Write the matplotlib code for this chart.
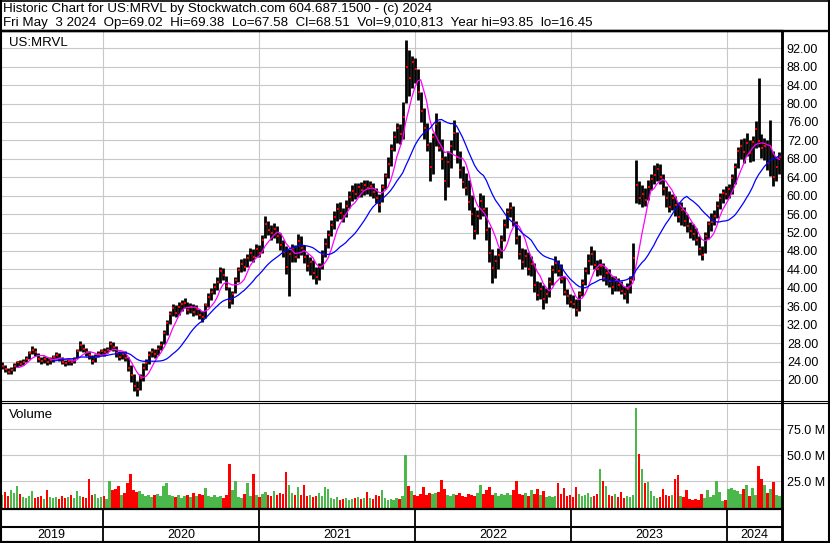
import numpy as np
import pandas as pd
import matplotlib
matplotlib.use('Agg')
import matplotlib.pyplot as plt
import matplotlib.dates as mdates
from matplotlib.lines import Line2D

plt.rcParams['font.family'] = ['Liberation Sans', 'DejaVu Sans']
plt.rcParams['font.size'] = 9

# -----------------------------------------------------------------------------------
# Weekly bars (Fridays, 10 May 2019 .. 3 May 2024)
# -----------------------------------------------------------------------------------
weeks = pd.date_range('2019-05-10', '2024-05-03', freq='W-FRI')

close = [
    # 2019
    23.0, 22.4, 21.8, 22.2, 23.0, 23.8, 23.5, 24.0, 24.6, 25.8, 26.6, 26.0, 24.6, 24.2, 24.6, 24.0, 24.3,
    24.9, 25.4, 24.8, 24.0, 23.6, 24.1, 23.8, 24.5, 26.2, 27.6, 26.8, 26.0, 25.4, 24.2, 25.0, 25.7, 26.3,
    # 2020
    26.0, 26.6, 27.8, 27.2, 25.8, 25.0, 25.6, 24.8, 22.6, 21.0, 18.8, 18.0, 20.4, 22.6, 23.6, 25.5, 26.0,
    25.6, 26.8, 27.5, 30.2, 32.4, 34.4, 35.6, 34.6, 35.8, 36.4, 36.8, 35.2, 35.8, 34.8, 35.4, 34.0, 33.6,
    36.2, 38.0, 39.2, 40.2, 41.2, 43.6, 42.8, 40.4, 37.2, 38.6, 41.6, 43.8, 45.2, 44.6, 46.4, 47.6, 46.8, 48.4,
    # 2021
    47.6, 50.4, 53.8, 52.6, 51.8, 52.8, 51.2, 49.4, 47.8, 44.6, 47.4, 48.6, 46.8, 50.2, 48.6, 46.8, 44.8, 45.6,
    43.2, 42.4, 44.6, 47.4, 49.6, 51.4, 53.6, 55.4, 57.2, 56.2, 55.6, 57.8, 59.8, 61.0, 60.4, 61.8, 61.2, 62.4,
    61.6, 62.2, 60.8, 59.4, 58.0, 61.8, 64.2, 66.8, 70.2, 72.8, 74.6, 73.4, 77.0, 88.0, 85.6, 89.0, 87.4,
    # 2022
    82.6, 78.4, 74.6, 71.0, 66.2, 72.8, 75.6, 70.4, 68.0, 63.2, 67.4, 70.8, 73.6, 68.4, 65.6, 63.0, 61.6,
    58.6, 56.0, 52.4, 55.6, 58.8, 57.2, 52.6, 47.6, 44.4, 45.8, 47.2, 50.4, 53.6, 56.4, 57.4, 54.2, 50.8,
    47.4, 45.6, 47.0, 44.2, 45.2, 40.6, 38.4, 39.8, 37.6, 38.6, 41.2, 43.8, 45.4, 43.6, 42.0, 39.0, 38.2, 37.0,
    # 2023
    36.6, 35.2, 38.6, 41.0, 43.6, 45.8, 47.4, 45.0, 44.0, 44.8, 42.2, 43.2, 41.4, 40.2, 41.4, 40.6, 39.4,
    38.6, 39.8, 41.8, 46.4, 62.4, 59.6, 60.4, 59.0, 61.8, 63.6, 64.6, 65.8, 64.0, 61.4, 59.6, 57.6, 59.4,
    58.0, 55.4, 56.8, 54.6, 53.4, 52.4, 51.6, 50.4, 48.4, 47.2, 51.2, 53.8, 54.4, 55.6, 57.8, 59.6, 60.6, 60.4,
    # 2024
    61.4, 63.8, 66.2, 69.6, 70.8, 69.4, 71.4, 69.2, 71.6, 74.4, 71.8, 70.4, 70.8, 67.2, 70.6, 64.0, 66.2, 68.5,
]

high = [
    # 2019
    24.0, 23.3, 22.6, 22.8, 23.6, 24.2, 24.3, 24.6, 25.2, 26.4, 27.4, 27.0, 25.8, 24.9, 25.2, 24.9, 25.0,
    25.5, 26.0, 25.8, 25.0, 24.4, 24.7, 24.6, 25.0, 26.8, 28.4, 27.9, 27.0, 26.3, 25.4, 25.6, 26.4, 26.8,
    # 2020
    26.9, 27.2, 28.4, 28.2, 27.3, 26.2, 26.4, 26.2, 25.0, 23.2, 21.4, 19.8, 21.2, 23.6, 24.6, 26.2, 27.0,
    26.8, 27.6, 28.4, 30.8, 33.0, 35.0, 36.6, 36.2, 37.0, 37.4, 37.8, 37.0, 36.8, 36.4, 36.2, 35.4, 35.0,
    36.8, 38.8, 40.0, 41.0, 42.4, 44.6, 44.4, 42.6, 40.2, 39.4, 42.4, 44.6, 46.2, 46.4, 47.4, 48.6, 48.4, 49.6,
    # 2021
    49.4, 51.4, 55.5, 54.6, 53.6, 54.0, 53.4, 52.0, 50.4, 49.0, 48.4, 49.6, 49.2, 51.6, 51.2, 49.4, 47.4, 46.6,
    46.0, 44.6, 45.4, 48.2, 50.8, 52.6, 54.8, 56.6, 58.4, 58.6, 57.4, 59.0, 61.0, 62.4, 62.8, 62.8, 63.0, 63.5,
    63.4, 63.2, 62.8, 61.6, 60.4, 62.6, 65.0, 68.4, 71.2, 74.0, 75.8, 75.6, 80.4, 93.8, 91.6, 90.4, 89.8,
    # 2022
    87.6, 82.6, 79.0, 75.8, 71.6, 73.6, 78.0, 76.2, 72.4, 68.6, 69.6, 72.2, 76.4, 73.8, 69.8, 66.4, 65.0,
    63.4, 60.2, 57.6, 57.0, 60.6, 60.2, 57.6, 53.2, 48.4, 47.2, 48.6, 51.4, 55.0, 57.4, 58.6, 57.8, 54.6,
    51.4, 48.6, 48.4, 47.8, 47.0, 45.4, 41.4, 41.2, 40.6, 40.0, 42.4, 45.0, 47.0, 46.0, 45.2, 42.6, 39.8, 38.6,
    # 2023
    38.4, 37.6, 39.4, 42.0, 44.6, 47.4, 49.0, 48.2, 46.0, 46.2, 45.4, 44.4, 44.0, 42.6, 42.6, 42.2, 41.4,
    40.4, 41.0, 42.6, 49.8, 67.8, 63.2, 62.4, 61.6, 63.4, 64.8, 66.6, 67.0, 66.8, 64.8, 62.0, 61.0, 60.4,
    60.0, 58.6, 58.6, 57.6, 56.0, 54.2, 53.8, 53.0, 51.2, 49.0, 52.2, 54.6, 56.2, 57.0, 58.8, 60.6, 61.4, 62.0,
    # 2024
    62.6, 64.8, 67.0, 70.6, 72.4, 72.6, 73.6, 72.2, 73.0, 76.2, 85.6, 73.4, 72.6, 72.0, 76.4, 69.6, 68.4, 69.4,
]

low = [
    # 2019
    22.3, 21.8, 21.2, 21.3, 21.9, 22.8, 23.0, 23.2, 23.8, 24.5, 25.6, 25.2, 23.9, 23.4, 23.6, 23.3, 23.5,
    24.0, 24.6, 24.2, 23.4, 23.0, 23.3, 23.2, 23.6, 24.8, 26.4, 26.1, 25.3, 24.6, 23.5, 24.0, 24.9, 25.5,
    # 2020
    25.3, 25.8, 26.5, 26.4, 25.0, 24.3, 24.5, 24.1, 22.0, 19.5, 17.6, 16.5, 17.8, 19.8, 22.2, 23.5, 25.0,
    24.8, 25.4, 26.5, 27.8, 29.8, 32.2, 33.8, 33.6, 34.2, 35.0, 35.6, 34.4, 34.6, 33.8, 34.0, 33.2, 32.6,
    33.4, 35.8, 37.4, 38.6, 39.6, 41.0, 41.6, 39.6, 35.6, 36.4, 38.8, 41.2, 43.4, 43.6, 44.6, 45.8, 45.6, 46.6,
    # 2021
    46.8, 47.6, 50.8, 51.4, 50.4, 50.8, 49.8, 48.2, 46.8, 43.0, 38.2, 45.6, 45.6, 46.4, 47.2, 45.4, 43.6, 42.8,
    42.0, 40.8, 41.6, 44.2, 46.6, 48.6, 51.2, 52.8, 54.6, 55.0, 54.4, 55.4, 57.4, 58.8, 59.2, 59.8, 59.8, 60.2,
    60.4, 60.0, 59.6, 58.4, 56.5, 58.6, 61.4, 63.8, 66.4, 69.8, 71.4, 71.2, 72.4, 80.2, 81.6, 83.4, 84.4,
    # 2022
    80.8, 76.0, 72.4, 69.8, 63.2, 64.8, 70.8, 69.6, 65.8, 59.0, 61.8, 66.0, 70.0, 67.2, 63.8, 61.6, 60.2,
    56.8, 53.6, 50.5, 51.6, 55.0, 55.6, 50.4, 45.6, 41.0, 42.2, 44.0, 46.4, 50.2, 53.0, 55.4, 53.4, 49.6,
    46.2, 44.2, 44.6, 42.8, 42.6, 39.2, 37.4, 37.6, 35.4, 36.8, 38.0, 40.6, 43.2, 42.6, 41.0, 38.4, 36.6, 35.8,
    # 2023
    35.6, 33.8, 35.0, 38.2, 40.6, 43.0, 45.0, 44.0, 42.6, 42.8, 41.4, 40.6, 40.2, 38.6, 39.4, 39.4, 38.6,
    37.6, 36.8, 38.8, 41.6, 58.4, 58.2, 57.6, 57.8, 59.0, 61.2, 62.6, 63.2, 62.6, 60.2, 57.6, 56.4, 56.8,
    55.6, 54.2, 53.6, 53.4, 52.2, 50.8, 50.4, 49.2, 47.2, 46.0, 47.6, 50.6, 52.4, 53.6, 55.2, 57.2, 58.4, 59.2,
    # 2024
    59.4, 60.4, 62.6, 66.0, 68.0, 67.2, 68.6, 67.4, 67.6, 70.4, 70.6, 68.2, 67.8, 65.6, 64.2, 62.0, 63.2, 64.8,
]

# millions of shares
volume = [
    12, 15, 11, 17, 14, 21, 13, 10, 9, 11, 16, 9, 10, 11, 8, 17, 10, 9, 10, 8,
    11, 9, 10, 12, 9, 16, 11, 10, 9, 27, 12, 13, 9, 10, 11, 8, 25, 17, 18, 21,
    12, 14, 23, 32, 17, 15, 16, 13, 11, 12, 10, 12, 13, 11, 21, 23, 12, 11, 10, 12,
    9, 11, 12, 10, 14, 11, 13, 12, 19, 11, 10, 12, 10, 11, 9, 12, 42, 17, 25, 10,
    9, 13, 23, 11, 32, 12, 10, 13, 15, 12, 11, 16, 12, 14, 13, 34, 22, 14, 12, 20,
    12, 22, 11, 12, 10, 11, 14, 11, 20, 18, 9, 8, 10, 7, 8, 9, 7, 8, 9, 10,
    8, 9, 15, 9, 8, 12, 11, 17, 9, 7, 8, 7, 9, 8, 11, 50, 21, 16, 12, 11,
    13, 20, 12, 14, 13, 14, 15, 26, 18, 12, 11, 13, 12, 14, 11, 10, 13, 12, 11, 14,
    22, 13, 17, 20, 12, 14, 11, 13, 12, 14, 12, 17, 25, 13, 12, 14, 11, 17, 13, 18,
    12, 16, 10, 11, 10, 11, 23, 13, 19, 11, 12, 10, 20, 13, 11, 12, 14, 10, 11, 13,
    37, 25, 21, 12, 11, 13, 10, 15, 9, 11, 10, 12, 95, 51, 37, 23, 24, 16, 11, 9,
    10, 18, 12, 11, 12, 27, 31, 11, 10, 17, 8, 7, 8, 7, 13, 9, 17, 10, 12, 25,
    15, 6, 7, 18, 19, 17, 16, 13, 18, 22, 11, 19, 12, 40, 27, 22, 14, 18, 24, 12,
    11,
]

years = ['2019', '2020', '2021', '2022', '2023', '2024']
price_ticks = [20, 24, 28, 32, 36, 40, 44, 48, 52, 56, 60, 64, 68, 72, 76, 80, 84, 88, 92]
volume_ticks = [25, 50, 75]

title = 'Historic Chart for US:MRVL by Stockwatch.com 604.687.1500 - (c) 2024'
quote = ('Fri May  3 2024  Op=69.02  Hi=69.38  Lo=67.58  Cl=68.51  '
         'Vol=9,010,813  Year hi=93.85  lo=16.45')

W, H = 830, 543
RED = '#ff0000'
GREEN = '#4cb84c'
GRID = '#c8c8c8'


def box(x0, y0, x1, y1):
    # pixel box (origin top left) -> figure rect
    return [x0 / W, 1 - y1 / H, (x1 - x0) / W, (y1 - y0) / H]


def fig_line(fig, xs, ys, lw):
    fig.add_artist(Line2D([v / W for v in xs], [1 - v / H for v in ys],
                          transform=fig.transFigure, color='black', lw=lw,
                          solid_capstyle='butt'))


x = mdates.date2num(weeks)
x_start = mdates.date2num(pd.Timestamp('2019-05-05'))
x_end = mdates.date2num(pd.Timestamp('2024-05-09'))
year_starts = [mdates.date2num(pd.Timestamp(y + '-01-01')) for y in years[1:]]

closes = pd.Series(close)
ma_fast = closes.rolling(6).mean()
ma_slow = closes.rolling(18).mean()
bar_colors = [RED if d < 0 else GREEN for d in np.diff(close, prepend=close[0])]

fig = plt.figure(figsize=(W / 100, H / 100), dpi=100)

# ---- price panel
ax_p = fig.add_axes(box(0, 30.5, 782, 400.5))
ax_p.vlines(x, low, high, color='black', lw=2.0, zorder=2)
ax_p.plot(x + 2, close, ls='none', marker='s', ms=1.5, mew=0, color=RED, zorder=3)
ax_p.plot(x, ma_fast, color='#ff00ff', lw=0.9, zorder=4)
ax_p.plot(x, ma_slow, color='#0000ff', lw=0.9, zorder=4)
ax_p.set_xlim(x_start, x_end)
ax_p.set_ylim(15.55, 95.86)
ax_p.set_yticks(price_ticks)
ax_p.set_yticklabels(['%.2f' % t for t in price_ticks])
ax_p.yaxis.tick_right()
ax_p.tick_params(axis='y', length=0, pad=3.5, labelsize=9)
ax_p.set_xticks(year_starts)
ax_p.tick_params(axis='x', length=0, labelbottom=False)
ax_p.grid(True, color=GRID, lw=0.8)
ax_p.set_axisbelow(True)

# ---- volume panel
ax_v = fig.add_axes(box(0, 403, 782, 507.5))
ax_v.bar(x, volume, width=6, color=bar_colors, lw=0, zorder=2)
ax_v.set_xlim(x_start, x_end)
ax_v.set_ylim(0, 100)
ax_v.set_yticks(volume_ticks)
ax_v.set_yticklabels(['%.1f M' % t for t in volume_ticks])
ax_v.yaxis.tick_right()
ax_v.tick_params(axis='y', length=0, pad=3.5, labelsize=9)
ax_v.set_xticks(year_starts)
ax_v.tick_params(axis='x', length=0, labelbottom=False)
ax_v.grid(True, color=GRID, lw=0.8)
ax_v.set_axisbelow(True)

# ---- year strip
ax_y = fig.add_axes(box(0, 509, 782, 541.7))
ax_y.set_xlim(x_start, x_end)
ax_y.set_ylim(0, 1)
ax_y.set_xticks([])
ax_y.set_yticks([])
ax_y.axhline(0.46, color='black', lw=1.5)
ax_y.vlines(year_starts, 0, 1, color='black', lw=1.3)
edges = [x_start] + year_starts + [x_end]
for i, yr in enumerate(years):
    ax_y.text((edges[i] + edges[i + 1]) / 2, 0.2, yr, ha='center', va='center', fontsize=9)

for ax in (ax_p, ax_v, ax_y):
    ax.spines['left'].set_visible(False)
    ax.spines['right'].set_linewidth(1.8)
ax_p.spines['top'].set_linewidth(1.7)
ax_p.spines['bottom'].set_linewidth(0.8)
ax_v.spines['top'].set_linewidth(0.8)
ax_v.spines['bottom'].set_visible(False)
ax_y.spines['top'].set_linewidth(1.6)
ax_y.spines['bottom'].set_linewidth(1.5)

# ---- frame and header
fig_line(fig, [0, W], [0.7, 0.7], 1.2)
fig_line(fig, [1, 1], [0, H], 1.5)
fig_line(fig, [829, 829], [0, H], 1.5)
fig_line(fig, [0, W], [542, 542], 1.5)
fig_line(fig, [0, W], [30.5, 30.5], 1.7)
fig_line(fig, [782, W], [400.5, 400.5], 0.8)
fig_line(fig, [782, W], [403, 403], 0.8)
fig_line(fig, [782, 782], [30.5, 542], 1.8)

fig.text(3 / W, 1 - 11.7 / H, title, va='baseline', fontsize=9.65)
fig.text(3 / W, 1 - 26 / H, quote, va='baseline', fontsize=9.65)
fig.text(9 / W, 1 - 46 / H, 'US:MRVL', va='baseline', fontsize=9.5)
fig.text(9 / W, 1 - 418 / H, 'Volume', va='baseline', fontsize=9.5)

fig.savefig('out.png', dpi=100)
